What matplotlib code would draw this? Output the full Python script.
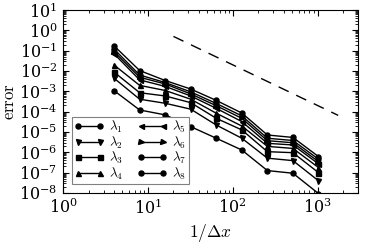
import matplotlib
matplotlib.use("Agg")
import matplotlib.pyplot as plt
import numpy as np

plt.rcParams["mathtext.fontset"] = "cm"
plt.rcParams["font.family"] = "serif"
plt.rcParams["font.serif"] = ["DejaVu Serif"]

# grid resolutions 1/dx
inv_dx = [4, 8, 16, 32, 64, 128, 256, 512, 1024]

# log10(error), one list per lambda
log_err = {
    r"$\lambda_1$": [-2.97, -3.92, -4.16, -4.74, -5.31, -5.89, -6.90, -7.03, -8.03],
    r"$\lambda_2$": [-2.36, -3.39, -3.59, -3.88, -4.66, -5.31, -6.29, -6.41, -7.40],
    r"$\lambda_3$": [-2.06, -3.07, -3.23, -3.56, -4.33, -4.90, -5.97, -6.02, -7.00],
    r"$\lambda_4$": [-1.71, -2.71, -2.96, -3.39, -4.08, -4.71, -5.71, -5.81, -6.75],
    r"$\lambda_5$": [-1.16, -2.44, -2.76, -3.23, -3.84, -4.49, -5.56, -5.64, -6.57],
    r"$\lambda_6$": [-1.05, -2.31, -2.64, -3.13, -3.71, -4.33, -5.43, -5.53, -6.46],
    r"$\lambda_7$": [-0.93, -2.20, -2.57, -3.03, -3.60, -4.21, -5.31, -5.42, -6.34],
    r"$\lambda_8$": [-0.77, -1.98, -2.47, -2.89, -3.45, -4.07, -5.15, -5.27, -6.21],
}
markers = ["o", "v", "s", "^", "<", ">", "o", "o"]

# second order reference slope
ref_x = [20, 1750]
ref_c = 200.0

fig = plt.figure(figsize=(3.73, 2.43), dpi=100)
ax = fig.add_axes([0.169, 0.206, 0.791, 0.753])

for (label, vals), mk in zip(log_err.items(), markers):
    ax.plot(inv_dx, 10.0 ** np.array(vals), color="black", lw=1.0,
            marker=mk, markersize=3.6, label=label, clip_on=True)

rx = np.array(ref_x, dtype=float)
ax.plot(rx, ref_c / rx**2, color="black", lw=1.0, dashes=(8, 6))

ax.set_xscale("log")
ax.set_yscale("log")
ax.set_xlim(1, 3000)
ax.set_ylim(1e-8, 10)
ax.set_yticks([10.0**k for k in range(-8, 2)])
ax.set_xlabel(r"$1/\Delta x$", fontsize=12.5, labelpad=3)
ax.set_ylabel(r"$\mathrm{error}$", fontsize=12, labelpad=1)
ax.tick_params(which="both", direction="in", top=True, right=True, labelsize=11.5)
ax.tick_params(which="major", length=4, width=0.8, pad=4)
ax.tick_params(which="minor", length=2, width=0.6)
ax.yaxis.set_minor_locator(matplotlib.ticker.LogLocator(base=10, subs=np.arange(2, 10), numticks=20))
ax.yaxis.set_minor_formatter(matplotlib.ticker.NullFormatter())

leg = ax.legend(ncol=2, loc="lower left", bbox_to_anchor=(0.03, 0.05),
                numpoints=2, handlelength=2.3, fontsize=9.5, fancybox=False,
                edgecolor="0.5", framealpha=1, borderpad=0.15, labelspacing=-0.05,
                columnspacing=1.0, handletextpad=0.4, borderaxespad=0)
leg.get_frame().set_linewidth(0.8)

fig.savefig("out.png", dpi=100)
